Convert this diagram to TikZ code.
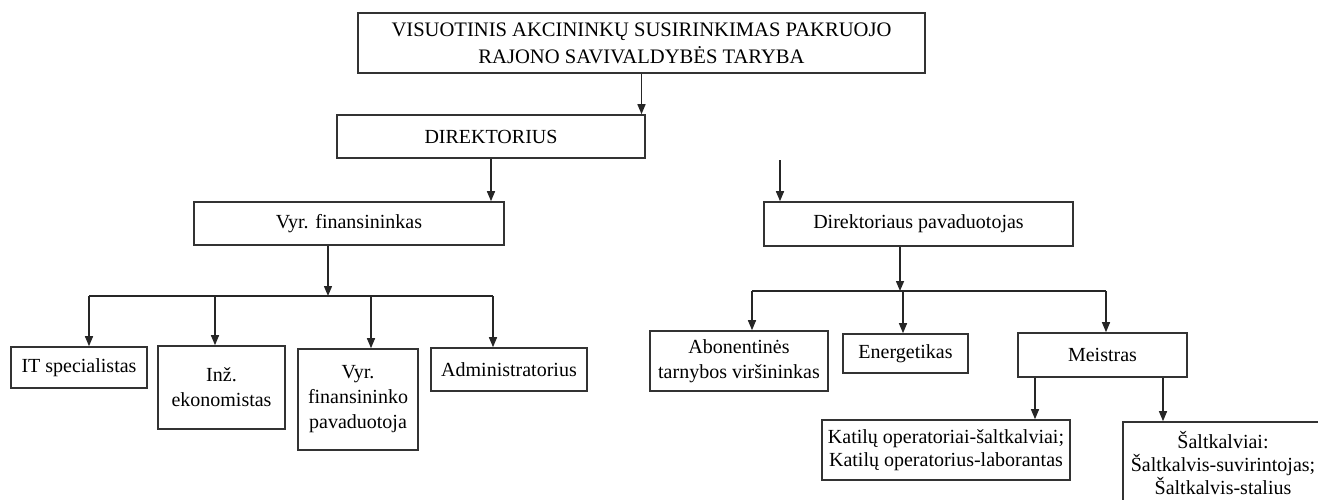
\documentclass[tikz,border=0pt]{standalone}
\usepackage{fontspec}
\setmainfont{Liberation Serif}
\usepackage{xcolor}
\usetikzlibrary{arrows.meta}

\begin{document}
\begin{tikzpicture}[
    x=0.5pt, y=-0.5pt,
    % Stili comuni per riquadri e collegamenti dell'organigramma.
    every node/.style={font=\fontsize{10}{12.5}\selectfont, align=center},
    box/.style={rectangle, draw=black!80, line width=0.8pt, fill=white, inner sep=2pt},
    head box/.style={box, font=\fontsize{10.3}{13.5}\selectfont},
    tight box/.style={box, font=\fontsize{10}{11.5}\selectfont},
    link/.style={draw=black!85, line width=0.7pt},
    arrow/.style={link, -{Triangle[width=4pt, length=5pt]}}
]
% Area visibile: il riquadro in basso a destra esce dal bordo.
\useasboundingbox (0,0) rectangle (1318,499);
\clip (0,0) rectangle (1318,499);

% Vertice: assemblea e direttore.
\node[head box, minimum width=283.5pt, minimum height=30pt] (top) at (641.5, 43)
    {VISUOTINIS AKCININKŲ SUSIRINKIMAS PAKRUOJO\\RAJONO SAVIVALDYBĖS TARYBA};
\node[box, minimum width=154pt, minimum height=21.5pt] (dir) at (491, 136.5) {DIREKTORIUS};

% Secondo livello.
\node[box, minimum width=155pt, minimum height=21.5pt]   (vyr) at (349, 223.5) {Vyr. finansininkas};
\node[box, minimum width=154.5pt, minimum height=22pt]   (pav) at (918.5, 224) {Direktoriaus pavaduotojas};

% Ramo sinistro.
\node[box, minimum width=68pt, minimum height=20.5pt]    (it)     at (79, 367.5)    {IT specialistas};
\node[box, minimum width=63.5pt, minimum height=41.5pt]  (inz)    at (221.5, 387.5) {Inž.\\ekonomistas};
\node[box, minimum width=60pt, minimum height=50.5pt]    (vyrpav) at (358, 399.5)   {Vyr.\\finansininko\\pavaduotoja};
\node[box, minimum width=78pt, minimum height=21.5pt]    (adm)    at (509, 369.5)   {Administratorius};

% Ramo destro.
\node[box, minimum width=89pt, minimum height=30pt]      (abon)  at (739, 361)    {Abonentinės\\tarnybos viršininkas};
\node[box, minimum width=62.5pt, minimum height=19.5pt]  (energ) at (905.5, 353.5) {Energetikas};
\node[box, minimum width=84.5pt, minimum height=22pt]    (meist) at (1102.5, 355) {Meistras};

\node[tight box, minimum width=124pt, minimum height=30pt] (katil) at (946, 450)
    {Katilų operatoriai-šaltkalviai;\\Katilų operatorius-laborantas};
\node[tight box, minimum width=100pt, minimum height=41pt] (salt) at (1223, 463)
    {Šaltkalviai:\\Šaltkalvis-suvirintojas;\\Šaltkalvis-stalius};

% Punti di diramazione.
\coordinate (free) at (780, 160);
\coordinate (bus1) at (328, 296);
\coordinate (l1) at (89, 296);
\coordinate (l2) at (215, 296);
\coordinate (l3) at (371, 296);
\coordinate (l4) at (493, 296);
\coordinate (bus2) at (900, 291);
\coordinate (r1) at (752, 291);
\coordinate (r2) at (903, 291);
\coordinate (r3) at (1106, 291);
\coordinate (k1) at (1035, 400);
\coordinate (s1) at (1163, 400);

% Collegamenti verticali principali.
\draw[arrow] (top.south) -- (top.south |- dir.north);
\draw[arrow] (dir.south) -- (dir.south |- vyr.north);
\draw[arrow] (free) -- (free |- pav.north);

% Diramazione sotto il capo contabile.
\draw[arrow] (bus1 |- vyr.south) -- (bus1);
\draw[link] (l1) -- (l4);
\draw[arrow] (l1) -- (l1 |- it.north);
\draw[arrow] (l2) -- (l2 |- inz.north);
\draw[arrow] (l3) -- (l3 |- vyrpav.north);
\draw[arrow] (l4) -- (l4 |- adm.north);

% Diramazione sotto il vicedirettore.
\draw[arrow] (bus2 |- pav.south) -- (bus2);
\draw[link] (r1) -- (r3);
\draw[arrow] (r1) -- (r1 |- abon.north);
\draw[arrow] (r2) -- (r2 |- energ.north);
\draw[arrow] (r3) -- (r3 |- meist.north);

% Sotto il capo officina.
\draw[arrow] (k1 |- meist.south) -- (k1 |- katil.north);
\draw[arrow] (s1 |- meist.south) -- (s1 |- salt.north);
\end{tikzpicture}
\end{document}
